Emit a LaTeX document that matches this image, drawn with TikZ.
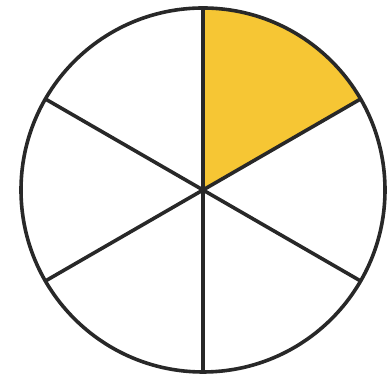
\documentclass[tikz,border=0pt]{standalone}
\definecolor{piefill}{RGB}{246,198,52}
\definecolor{pieline}{RGB}{40,40,40}
\begin{document}
\begin{tikzpicture}[x=0.5pt,y=-0.5pt,
  pieedge/.style={draw=pieline,line width=1.8pt,line cap=round,line join=round}]
\useasboundingbox (0,0) rectangle (392,378);
\coordinate (c) at (203,190);
\fill[piefill] (c) -- ++(90:-182) arc[start angle=-90,end angle=-30,radius=182] -- cycle;
\node[circle,minimum size=364*0.5pt,inner sep=0pt,pieedge] (o) at (c) {};
\foreach \a in {90,30,-30,-90,-150,150}{
  \draw[pieedge] (c) -- ++(\a:182);
}
\end{tikzpicture}
\end{document}
